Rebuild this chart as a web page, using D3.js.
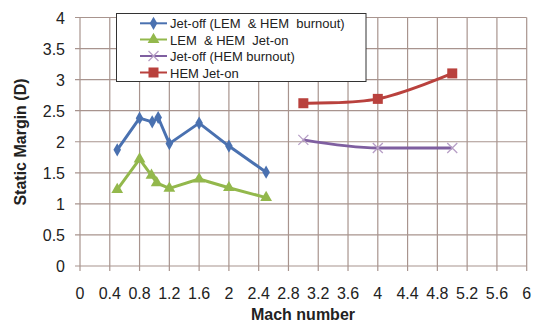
<!DOCTYPE html>
<html><head><meta charset="utf-8">
<script src="https://cdn.jsdelivr.net/npm/d3@7"></script>
<style>body{margin:0;background:#fff}svg{display:block}</style>
</head><body>
<svg id="c" width="538" height="323"></svg>
<script>
const xTicks = [0,0.4,0.8,1.2,1.6,2,2.4,2.8,3.2,3.6,4,4.4,4.8,5.2,5.6,6];
const xTickLabels = ["0","0.4","0.8","1.2","1.6","2","2.4","2.8","3.2","3.6","4","4.4","4.8","5.2","5.6","6"];
const yTicks = [0,0.5,1,1.5,2,2.5,3,3.5,4];
const yTickLabels = ["0","0.5","1","1.5","2","2.5","3","3.5","4"];

const machA = [0.5,0.8,0.97,1.05,1.2,1.6,2.0,2.5];
const jetOffLemHem = [1.87,2.38,2.32,2.39,1.97,2.30,1.93,1.51];
const machB = [0.5,0.8,0.96,1.03,1.2,1.6,2.0,2.5];
const jetOnLemHem = [1.23,1.72,1.46,1.34,1.25,1.40,1.26,1.10];
const machC = [3,4,5];
const jetOffHem = [2.03,1.90,1.90];
const jetOnHem = [2.62,2.69,3.10];

const seriesNames = ["Jet-off (LEM  & HEM  burnout)","LEM  & HEM  Jet-on","Jet-off (HEM burnout)","HEM Jet-on"];
const colors = ["#4a71b0","#93b84c","#7f5fa0","#b9413d"];

const svg = d3.select("#c");
const x = d3.scaleLinear().domain([0,6]).range([80,526.7]);
const y = d3.scaleLinear().domain([0,4]).range([266,17.5]);
const grid = "#a8948e";

// grid
svg.append("g").selectAll("line").data(xTicks).join("line")
  .attr("x1",d=>x(d)).attr("x2",d=>x(d)).attr("y1",y(4)).attr("y2",y(0)+5)
  .attr("stroke",grid).attr("stroke-width",1.2);
svg.append("g").selectAll("line").data(yTicks).join("line")
  .attr("x1",x(0)-5).attr("x2",x(6)).attr("y1",d=>y(d)).attr("y2",d=>y(d))
  .attr("stroke",grid).attr("stroke-width",1.2);

// tick labels
svg.append("g").selectAll("text").data(xTicks).join("text")
  .attr("x",d=>x(d)).attr("y",299).attr("text-anchor","middle")
  .attr("font-family","Liberation Sans, Arial, sans-serif").attr("font-size",16).attr("fill","#222")
  .text((d,i)=>xTickLabels[i]);
svg.append("g").selectAll("text").data(yTicks).join("text")
  .attr("x",65).attr("y",d=>y(d)+6).attr("text-anchor","end")
  .attr("font-family","Liberation Sans, Arial, sans-serif").attr("font-size",16).attr("fill","#222")
  .text((d,i)=>yTickLabels[i]);

// axis titles
svg.append("text").attr("x",303).attr("y",320).attr("text-anchor","middle")
  .attr("font-family","Liberation Sans, Arial, sans-serif").attr("font-size",16).attr("font-weight","bold").attr("fill","#222")
  .text("Mach number");
svg.append("text").attr("transform","translate(26,142) rotate(-90)").attr("text-anchor","middle")
  .attr("font-family","Liberation Sans, Arial, sans-serif").attr("font-size",16).attr("font-weight","bold").attr("fill","#222")
  .text("Static Margin (D)");

function pts(xs,ys){return xs.map((v,i)=>[v,ys[i]]);}
const series = [
  {d:pts(machA,jetOffLemHem), c:colors[0], curve:d3.curveLinear, m:"diamond"},
  {d:pts(machB,jetOnLemHem), c:colors[1], curve:d3.curveLinear, m:"triangle"},
  {d:pts(machC,jetOffHem), c:colors[2], curve:d3.curveMonotoneX, m:"x"},
  {d:pts(machC,jetOnHem), c:colors[3], curve:d3.curveCatmullRom.alpha(0.5), m:"square"}
];
function marker(g,type,c,cx,cy){
  if(type==="diamond") g.append("path").attr("d",d3.symbol(d3.symbolDiamond,50)()).attr("transform",`translate(${cx},${cy})`).attr("fill",c);
  else if(type==="triangle") g.append("path").attr("d",d3.symbol(d3.symbolTriangle,60)()).attr("transform",`translate(${cx},${cy})`).attr("fill",c);
  else if(type==="square") g.append("rect").attr("x",cx-5).attr("y",cy-5).attr("width",10).attr("height",10).attr("fill",c);
  else if(type==="x") g.append("path").attr("d",`M${cx-5},${cy-5}L${cx+5},${cy+5}M${cx-5},${cy+5}L${cx+5},${cy-5}`).attr("stroke","#b79fc6").attr("stroke-width",1.3).attr("fill","none");
}
series.forEach(s=>{
  const line = d3.line().x(d=>x(d[0])).y(d=>y(d[1])).curve(s.curve);
  svg.append("path").attr("d",line(s.d)).attr("fill","none").attr("stroke",s.c).attr("stroke-width",3).attr("stroke-linejoin","round");
  const g = svg.append("g");
  s.d.forEach(p=>marker(g,s.m,s.c,x(p[0]),y(p[1])));
});

// legend
const lg = svg.append("g");
lg.append("rect").attr("x",116.5).attr("y",13.5).attr("width",249.5).attr("height",68).attr("fill","#fff").attr("stroke","#333").attr("stroke-width",1);
const rowsY = [23.3,39.5,56,72.5];
series.forEach((s,i)=>{
  const ry = rowsY[i];
  lg.append("line").attr("x1",140).attr("x2",167).attr("y1",ry).attr("y2",ry).attr("stroke",s.c).attr("stroke-width",2);
  marker(lg,s.m,s.c,153.5,ry);
  lg.append("text").attr("x",170).attr("y",ry+5).attr("font-family","Liberation Sans, Arial, sans-serif")
    .attr("font-size",13).attr("fill","#222").style("white-space","pre").text(seriesNames[i]);
});
</script>
</body></html>
